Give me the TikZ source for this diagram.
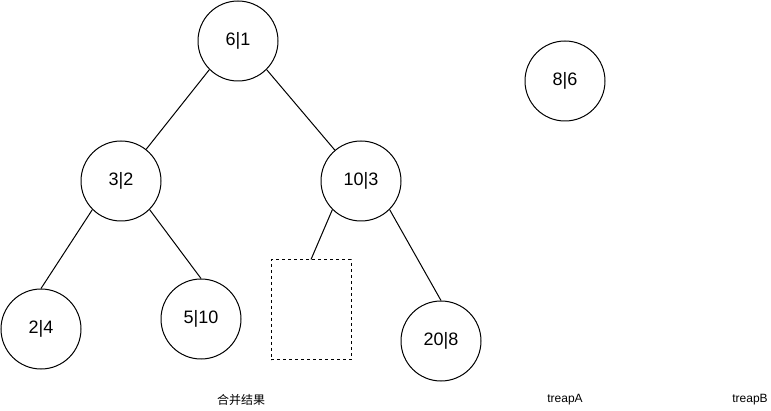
\documentclass[tikz,border=0pt]{standalone}
\usepackage{fontspec}
\setmainfont{Liberation Sans}
\newfontfamily\cjk{Noto Sans CJK SC}
\begin{document}
\begin{tikzpicture}[x=1pt,y=-1pt,
  tnode/.style={circle,draw,line width=1pt,minimum size=80pt,inner sep=0pt,font=\fontsize{18}{20}\selectfont},
  hole/.style={draw,dashed,line width=1pt,minimum width=80pt,minimum height=100pt,inner sep=0pt},
  edge/.style={line width=1pt},
  captxt/.style={font=\fontsize{12}{14}\selectfont,inner sep=0pt}]
\useasboundingbox (0,0) rectangle (771,411);
\node[tnode] (n61) at (238,41) {6|1};
\node[tnode] (n86) at (565,81) {8|6};
\node[tnode] (n32) at (121,181) {3|2};
\node[tnode] (n103) at (361,181) {10|3};
\node[tnode] (n24) at (41,329) {2|4};
\node[tnode] (n510) at (201,319) {5|10};
\node[hole] (hole) at (311,310) {};
\node[tnode] (n208) at (441,341) {20|8};
\draw[edge] (n61.south west) -- (n32);
\draw[edge] (n61.south east) -- (n103);
\draw[edge] (n32.south west) -- (n24.north);
\draw[edge] (n32.south east) -- (n510.north);
\draw[edge] (n103.south west) -- (hole.north);
\draw[edge] (n103.south east) -- (n208.north);
\node[captxt] (c1) at (241,400) {\cjk 合并结果};
\node[captxt] (c2) at (565,400) {treapA};
\node[captxt] (c3) at (750,400) {treapB};
\end{tikzpicture}
\end{document}
